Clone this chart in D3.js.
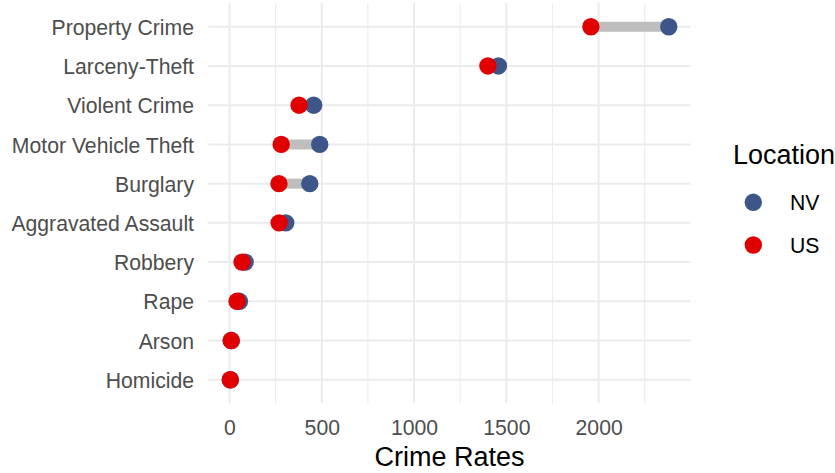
<!DOCTYPE html>
<html><head><meta charset="utf-8">
<script src="https://cdn.jsdelivr.net/npm/d3@7"></script>
<style>body{margin:0;background:#fff}svg{display:block}text{font-family:"Liberation Sans",Arial,sans-serif}</style>
</head><body>
<script>
const categories = ["Property Crime","Larceny-Theft","Violent Crime","Motor Vehicle Theft","Burglary","Aggravated Assault","Robbery","Rape","Arson","Homicide"];
const nvValues = [2380, 1457, 456, 489, 435, 305, 85, 54, 10, 5];
const usValues = [1958, 1400, 377, 280, 268, 269, 68, 41, 9, 4];
const xTicks = [0, 500, 1000, 1500, 2000];
const xMinor = [250, 750, 1250, 1750, 2250];
const seriesNames = ["NV", "US"];
const seriesColors = ["#3E5589", "#E00000"];

const W = 835, H = 473;
const svg = d3.select("body").append("svg").attr("width", W).attr("height", H);
const panel = {left: 208.3, right: 690.7, top: 3.2, bottom: 403.3};
const textSize = 21.2, titleSize = 27;

const allVals = nvValues.concat(usValues);
const lo = d3.min(allVals), hi = d3.max(allVals), R = hi - lo;
const x = d3.scaleLinear().domain([lo - 0.05 * R, hi + 0.05 * R]).range([panel.left, panel.right]);
const y = d3.scalePoint().domain(categories).range([panel.top, panel.bottom]).padding(0.6);

const g = svg.append("g");
// grid
g.selectAll(".minor").data(xMinor).enter().append("line")
  .attr("x1", d => x(d)).attr("x2", d => x(d)).attr("y1", panel.top).attr("y2", panel.bottom)
  .attr("stroke", "#EBEBEB").attr("stroke-width", 1.1);
g.selectAll(".major").data(xTicks).enter().append("line")
  .attr("x1", d => x(d)).attr("x2", d => x(d)).attr("y1", panel.top).attr("y2", panel.bottom)
  .attr("stroke", "#EBEBEB").attr("stroke-width", 2);
g.selectAll(".hmajor").data(categories).enter().append("line")
  .attr("x1", panel.left).attr("x2", panel.right).attr("y1", d => y(d)).attr("y2", d => y(d))
  .attr("stroke", "#EBEBEB").attr("stroke-width", 2);

// segments
g.selectAll(".seg").data(categories).enter().append("line")
  .attr("x1", (d, i) => x(usValues[i])).attr("x2", (d, i) => x(nvValues[i]))
  .attr("y1", d => y(d)).attr("y2", d => y(d))
  .attr("stroke", "#BEBEBE").attr("stroke-width", 10);

// points
[nvValues, usValues].forEach((vals, s) => {
  g.selectAll(".pt" + s).data(categories).enter().append("circle")
    .attr("cx", (d, i) => x(vals[i])).attr("cy", d => y(d)).attr("r", 8.7)
    .attr("fill", seriesColors[s]);
});

// axes
const xAxis = d3.axisBottom(x).tickValues(xTicks).tickFormat(d3.format("d")).tickSize(0).tickPadding(0);
const xa = svg.append("g").attr("transform", `translate(0,${panel.bottom})`).call(xAxis);
xa.select(".domain").remove();
xa.selectAll("text").attr("y", 0).attr("dy", 0).attr("transform", "translate(0,32)")
  .attr("font-size", textSize).attr("fill", "#4D4D4D").attr("font-family", "Liberation Sans, Arial, sans-serif");

const yAxis = d3.axisLeft(y).tickSize(0).tickPadding(0);
const ya = svg.append("g").attr("transform", `translate(194,0)`).call(yAxis);
ya.select(".domain").remove();
ya.selectAll("text").attr("x", 0).attr("dy", "0.36em")
  .attr("font-size", textSize).attr("fill", "#4D4D4D").attr("font-family", "Liberation Sans, Arial, sans-serif");

svg.append("text").attr("x", (panel.left + panel.right) / 2).attr("y", 466)
  .attr("text-anchor", "middle").attr("font-size", titleSize).attr("fill", "#000").text("Crime Rates");

// legend
svg.append("text").attr("x", 733).attr("y", 164).attr("font-size", titleSize).attr("fill", "#000").text("Location");
const legY = [202.3, 245];
seriesNames.forEach((n, i) => {
  svg.append("circle").attr("cx", 753.3).attr("cy", legY[i]).attr("r", 8.7).attr("fill", seriesColors[i]);
  svg.append("text").attr("x", 790).attr("y", legY[i]).attr("dy", "0.36em")
    .attr("font-size", textSize).attr("fill", "#000").text(n);
});
</script>
</body></html>
